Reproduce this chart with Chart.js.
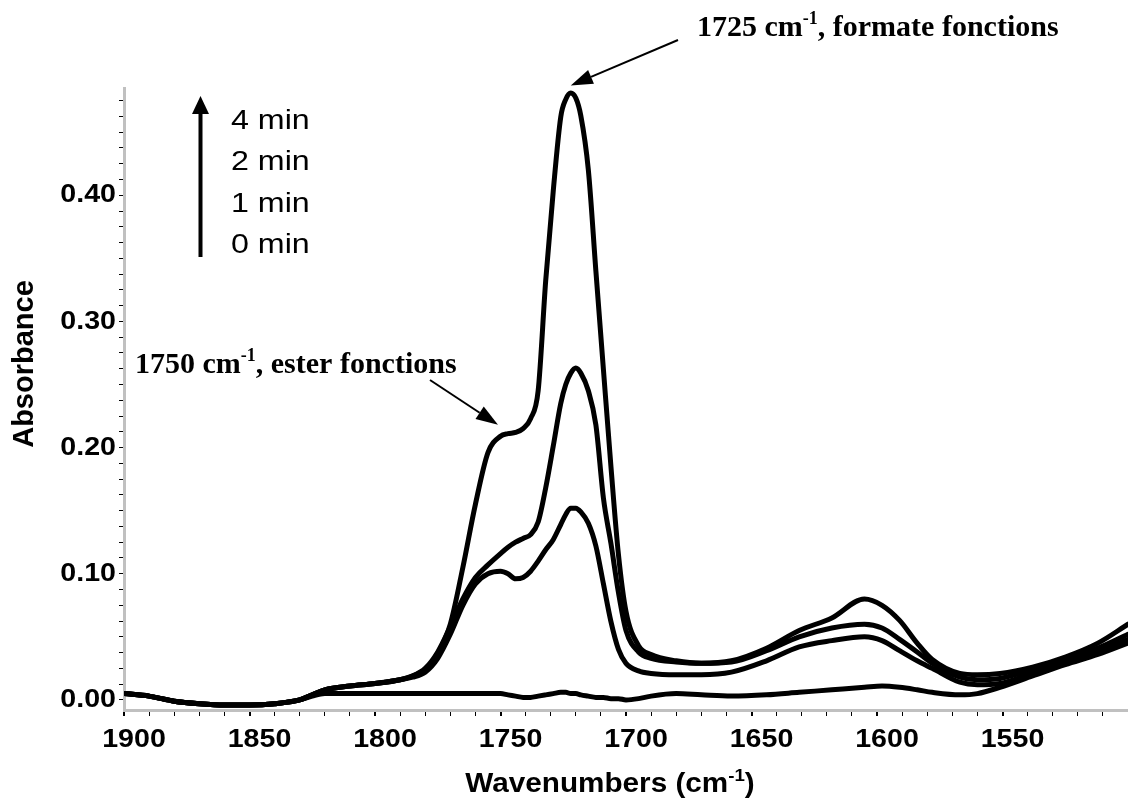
<!DOCTYPE html>
<html>
<head>
<meta charset="utf-8">
<script src="https://cdn.jsdelivr.net/npm/chart.js@4/dist/chart.umd.min.js"></script>
<style>
  html, body { margin: 0; padding: 0; background: #fff; }
  #wrap { width: 1128px; height: 810px; }
</style>
</head>
<body>
<div id="wrap"><canvas id="spectre"></canvas></div>
<script>
// Spectre IR : absorbance en fonction du nombre d'onde (cm-1)
var wavenumbers = [1900, 1890, 1880, 1870, 1860, 1850, 1840, 1830, 1825, 1820,
  1810, 1800, 1790, 1785, 1780, 1775, 1770, 1765, 1760, 1755, 1750,
  1747, 1744, 1741, 1738, 1735, 1732, 1729, 1726, 1724, 1722,
  1720, 1718, 1715, 1712, 1709, 1706, 1703, 1700, 1695, 1690, 1680, 1670,
  1658, 1644, 1631, 1618, 1605, 1598, 1591, 1584, 1578, 1567, 1560, 1551,
  1538, 1525, 1512, 1500];

var abs4min = [0.005, 0.003, -0.001, -0.003, -0.004, -0.004, -0.003, 0.000, 0.004, 0.008,
  0.011, 0.013, 0.016, 0.019, 0.024, 0.037, 0.060, 0.105, 0.155, 0.196, 0.209,
  0.211, 0.212, 0.215, 0.223, 0.245, 0.332, 0.403, 0.462, 0.476, 0.481,
  0.477, 0.463, 0.420, 0.340, 0.262, 0.185, 0.115, 0.070, 0.043, 0.036, 0.031, 0.029,
  0.031, 0.041, 0.055, 0.065, 0.080, 0.075, 0.063, 0.045, 0.032, 0.021, 0.020, 0.021,
  0.026, 0.034, 0.045, 0.060];

var abs2min = [0.005, 0.003, -0.001, -0.003, -0.004, -0.004, -0.003, 0.000, 0.004, 0.008,
  0.011, 0.013, 0.016, 0.019, 0.025, 0.038, 0.058, 0.080, 0.097, 0.107, 0.116,
  0.121, 0.125, 0.128, 0.131, 0.141, 0.168, 0.201, 0.235, 0.250, 0.259,
  0.263, 0.259, 0.245, 0.218, 0.160, 0.124, 0.085, 0.055, 0.038, 0.033, 0.030, 0.029,
  0.030, 0.039, 0.050, 0.057, 0.060, 0.057, 0.048, 0.038, 0.029, 0.018, 0.016, 0.017,
  0.024, 0.032, 0.041, 0.052];

var abs1min = [0.005, 0.003, -0.001, -0.003, -0.004, -0.004, -0.003, 0.000, 0.004, 0.008,
  0.011, 0.013, 0.016, 0.018, 0.022, 0.033, 0.052, 0.075, 0.092, 0.100, 0.102,
  0.100, 0.096, 0.097, 0.102, 0.110, 0.119, 0.127, 0.139, 0.147, 0.152,
  0.152, 0.149, 0.140, 0.122, 0.092, 0.062, 0.040, 0.029, 0.023, 0.021, 0.020, 0.020,
  0.022, 0.031, 0.042, 0.047, 0.050, 0.047, 0.039, 0.031, 0.025, 0.014, 0.012, 0.013,
  0.021, 0.029, 0.038, 0.048];

var abs0min = [0.005, 0.003, -0.001, -0.003, -0.004, -0.004, -0.003, 0.000, 0.003, 0.005,
  0.005, 0.005, 0.005, 0.005, 0.005, 0.005, 0.005, 0.005, 0.005, 0.005, 0.005,
  0.004, 0.003, 0.002, 0.002, 0.003, 0.004, 0.005, 0.006, 0.006, 0.005,
  0.005, 0.004, 0.003, 0.002, 0.002, 0.001, 0.001, 0.000, 0.001, 0.003, 0.005, 0.004,
  0.003, 0.004, 0.006, 0.008, 0.010, 0.011, 0.010, 0.008, 0.006, 0.004, 0.005, 0.010,
  0.019, 0.028, 0.036, 0.045];

var xTickLabels = [1900, 1850, 1800, 1750, 1700, 1650, 1600, 1550];
var yTickLabels = [0.00, 0.10, 0.20, 0.30, 0.40];
var legendLabels = ['4 min', '2 min', '1 min', '0 min'];

var SANS = '"Liberation Sans", Arial, sans-serif';
var SERIF = '"Liberation Serif", "Times New Roman", serif';
var ETIRE = 1.1; // le texte sans-serif de l'original est un peu élargi

function points(values) {
  return wavenumbers.map(function(w, i) { return {x: w, y: values[i]}; });
}

function serie(values) {
  return {
    data: points(values),
    borderColor: '#000',
    borderWidth: 5,
    pointRadius: 0,
    fill: false,
    cubicInterpolationMode: 'monotone',
    borderJoinStyle: 'round',
    borderCapStyle: 'round'
  };
}

function estMajeur(v, liste) {
  for (var i = 0; i < liste.length; i++) {
    if (Math.abs(v - liste[i]) < 1e-6) return true;
  }
  return false;
}

function fleche(ctx, x1, y1, x2, y2, lw, hl, hw) {
  var a = Math.atan2(y2 - y1, x2 - x1);
  var bx = x2 - hl * Math.cos(a), by = y2 - hl * Math.sin(a);
  ctx.lineWidth = lw;
  ctx.beginPath();
  ctx.moveTo(x1, y1);
  ctx.lineTo(bx, by);
  ctx.stroke();
  ctx.beginPath();
  ctx.moveTo(x2, y2);
  ctx.lineTo(bx + hw / 2 * Math.sin(a), by - hw / 2 * Math.cos(a));
  ctx.lineTo(bx - hw / 2 * Math.sin(a), by + hw / 2 * Math.cos(a));
  ctx.closePath();
  ctx.fill();
}

// texte avec exposant : parts = [texte, police, décalage vertical], k = étirement horizontal
function largeur(ctx, parts, k) {
  var w = 0;
  parts.forEach(function(p) { ctx.font = p[1]; w += ctx.measureText(p[0]).width; });
  return w * (k || 1);
}
function texteRiche(ctx, parts, x, y, k) {
  k = k || 1;
  ctx.save();
  ctx.translate(x, y);
  ctx.scale(k, 1);
  var cx = 0;
  parts.forEach(function(p) {
    ctx.font = p[1];
    ctx.fillText(p[0], cx, -(p[2] || 0));
    cx += ctx.measureText(p[0]).width;
  });
  ctx.restore();
}

var annotations = {
  id: 'annotations',
  afterDraw: function(chart) {
    var ctx = chart.ctx;
    var sx = chart.scales.x, sy = chart.scales.y;
    ctx.save();
    ctx.fillStyle = '#000';
    ctx.strokeStyle = '#000';
    ctx.textAlign = 'left';
    ctx.textBaseline = 'alphabetic';

    // étiquettes des graduations
    var tickFont = 'bold 26px ' + SANS;
    xTickLabels.forEach(function(v) {
      var p = [[String(v), tickFont]];
      texteRiche(ctx, p, sx.getPixelForValue(v) + 10 - largeur(ctx, p, ETIRE) / 2, 747, ETIRE);
    });
    ctx.textBaseline = 'middle';
    yTickLabels.forEach(function(v) {
      var p = [[v.toFixed(2), tickFont]];
      texteRiche(ctx, p, chart.chartArea.left - 8 - largeur(ctx, p, ETIRE), sy.getPixelForValue(v), ETIRE);
    });
    ctx.textBaseline = 'alphabetic';

    // pic formate
    var serifB = 'bold 30px ' + SERIF, serifS = 'bold 18px ' + SERIF;
    texteRiche(ctx, [['1725 cm', serifB], ['-1', serifS, 12], [', formate fonctions', serifB]], 697, 36);
    fleche(ctx, 678, 40, sx.getPixelForValue(1722), sy.getPixelForValue(0.487), 2, 22, 15);

    // épaulement ester
    texteRiche(ctx, [['1750 cm', serifB], ['-1', serifS, 12], [', ester fonctions', serifB]], 135, 373);
    fleche(ctx, 430, 380, sx.getPixelForValue(1751), sy.getPixelForValue(0.218), 2, 22, 15);

    // légende temps
    fleche(ctx, 200.5, 257, 200.5, 96, 4, 18, 17);
    legendLabels.forEach(function(t, i) {
      texteRiche(ctx, [[t, '28px ' + SANS]], 231, 129 + i * 41.3, 1.15);
    });

    // titres des axes
    var sansB = 'bold 27px ' + SANS, sansS = 'bold 17px ' + SANS;
    var parts = [['Wavenumbers (cm', sansB], ['-1', sansS, 11], [')', sansB]];
    texteRiche(ctx, parts, 610 - largeur(ctx, parts, ETIRE) / 2, 792, ETIRE);

    ctx.translate(25, 364);
    ctx.rotate(-Math.PI / 2);
    ctx.font = 'bold 29px ' + SANS;
    ctx.textAlign = 'center';
    ctx.textBaseline = 'middle';
    ctx.fillText('Absorbance', 0, 0);
    ctx.restore();
  }
};

Chart.defaults.font.family = SANS;
Chart.defaults.color = '#000';

function fitX(s) { s.height = 100; s.paddingLeft = 0; s.paddingRight = 0; }
function fitY(s) { s.width = 124; s.paddingTop = 0; s.paddingBottom = 0; }

new Chart(document.getElementById('spectre').getContext('2d'), {
  type: 'line',
  data: {
    datasets: [serie(abs4min), serie(abs2min), serie(abs1min), serie(abs0min)]
  },
  options: {
    responsive: true,
    maintainAspectRatio: false,
    animation: false,
    layout: { padding: { top: 88, right: 0, left: 0, bottom: 0 } },
    plugins: { legend: { display: false }, tooltip: { enabled: false } },
    scales: {
      x: {
        type: 'linear',
        reverse: true,
        min: 1500,
        max: 1900,
        afterFit: fitX,
        border: { display: true, color: '#c0c0c0', width: 3 },
        grid: {
          drawOnChartArea: false, drawTicks: true, tickLength: 6, color: '#000',
          lineWidth: function(c) { return c.tick && estMajeur(c.tick.value, xTickLabels) ? 2 : 1; }
        },
        ticks: {
          stepSize: 10,
          autoSkip: false,
          maxRotation: 0,
          includeBounds: false,
          callback: function() { return ''; }
        }
      },
      y: {
        type: 'linear',
        min: -0.008,
        max: 0.485,
        afterFit: fitY,
        border: { display: true, color: '#c0c0c0', width: 3 },
        grid: { drawOnChartArea: false, drawTicks: true, tickLength: 5, color: '#000', lineWidth: 1 },
        ticks: {
          stepSize: 0.0125,
          autoSkip: false,
          includeBounds: false,
          callback: function() { return ''; }
        }
      }
    }
  },
  plugins: [annotations]
});
</script>
</body>
</html>
